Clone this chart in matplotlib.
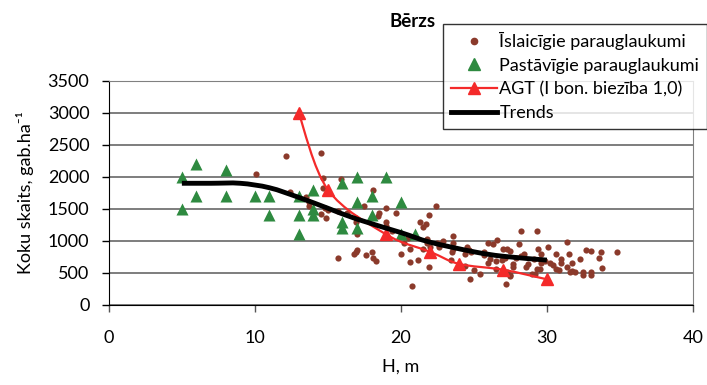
import matplotlib
matplotlib.use("Agg")
import matplotlib.pyplot as plt
from matplotlib.path import Path
from matplotlib.patches import PathPatch
from matplotlib.lines import Line2D

plt.rcParams['font.family'] = ['Lato', 'DejaVu Sans']

# Īslaicīgie parauglaukumi (temporary plots)
isl_h = [10.1, 12.1, 12.4, 13.5, 13.7, 13.7, 14.5, 14.5, 14.7, 14.7, 14.8, 14.9, 15.0, 15.7, 15.7,
         15.9, 16.3, 16.8, 16.9, 16.9, 16.9, 17.0, 17.0, 17.5, 17.6, 18.0, 18.1, 18.1, 18.3, 18.4,
         18.5, 19.0, 19.0, 19.0, 19.4, 19.7, 20.0, 20.2, 20.5, 20.6, 20.6, 20.75, 21.2, 21.3, 21.5,
         21.5, 21.7, 21.8, 21.8, 21.9, 21.9, 22.0, 22.4, 22.5, 22.6, 22.7, 22.9, 23.4, 23.5, 23.6,
         23.6, 23.6, 24.4, 24.4, 24.5, 24.7, 24.75, 24.8, 25.0, 25.4, 25.7, 25.7, 26.0, 26.0, 26.1,
         26.3, 26.5, 26.5, 26.6, 26.9, 27.0, 27.1, 27.2, 27.3, 27.3, 27.5, 27.5, 27.5, 27.7, 27.7,
         27.9, 28.1, 28.2, 28.2, 28.4, 28.6, 28.7, 29.0, 29.1, 29.2, 29.3, 29.3, 29.4, 29.5, 29.6,
         29.6, 29.6, 29.9, 30.1, 30.2, 30.45, 30.6, 30.6, 30.8, 31.0, 31.0, 31.4, 31.4, 31.5, 31.6,
         31.7, 31.7, 31.9, 32.3, 32.5, 32.5, 32.7, 33.0, 33.0, 33.0, 33.6, 33.7, 33.8, 34.8]
isl_n = [2050, 2320, 1770, 1690, 1600, 1550, 2370, 1420, 1990, 1820, 1520, 1350, 1490, 1470, 730,
         1960, 1440, 790, 1360, 1300, 820, 1110, 860, 1550, 780, 820, 1800, 730, 690, 1390,
         1440, 1520, 1290, 1240, 1160, 1440, 790, 975, 1050, 670, 880, 290, 700, 1290, 1210,
         870, 1260, 1030, 960, 1410, 600, 910, 1540, 975, 900, 950, 1000, 700, 820, 1080,
         960, 870, 610, 800, 900, 860, 400, 830, 545, 490, 820, 780, 960, 660, 720,
         950, 690, 560, 1020, 700, 870, 740, 330, 880, 510, 850, 470, 450, 640, 590,
         740, 950, 1160, 770, 800, 590, 640, 480, 720, 480, 1160, 560, 870, 560, 790,
         700, 650, 690, 900, 660, 630, 800, 560, 540, 720, 650, 990, 590, 790, 520,
         650, 530, 520, 720, 520, 460, 860, 835, 520, 470, 730, 820, 580, 820]

# Pastāvīgie parauglaukumi (permanent plots)
pst_h = [5, 5, 6, 6, 8, 8, 10, 11, 11, 13, 13, 13, 14, 14, 14, 16, 16, 16, 17, 17, 17, 18, 18, 19, 20, 20, 21]
pst_n = [2000, 1500, 2200, 1700, 2100, 1700, 1700, 1700, 1400, 1700, 1400, 1100, 1800, 1500, 1400,
         1900, 1300, 1200, 2000, 1600, 1200, 1700, 1400, 2000, 1600, 1100, 1100]

# AGT (I bon. biezība 1,0)
agt_h = [13, 15, 19, 22, 24, 27, 30]
agt_n = [3000, 1800, 1100, 830, 640, 550, 400]

# Trends
trend_h = [5, 7, 9, 11, 13, 15, 17, 20, 22, 25, 27, 30]
trend_n = [1900, 1900, 1900, 1830, 1680, 1510, 1340, 1130, 980, 830, 760, 700]

labels = ['Īslaicīgie parauglaukumi', 'Pastāvīgie parauglaukumi',
          'AGT (I bon. biezība 1,0)', 'Trends']

c_dot = '#8b3a2b'
c_tri = '#2e8a40'
c_red = '#f42a2a'


def smooth_path(xs, ys):
    # Excel-like smoothed line: Catmull-Rom segments as cubic Bezier curves
    pts = list(zip(xs, ys))
    verts = [pts[0]]
    codes = [Path.MOVETO]
    for i in range(len(pts) - 1):
        p0 = pts[i - 1] if i > 0 else pts[i]
        p1 = pts[i]
        p2 = pts[i + 1]
        p3 = pts[i + 2] if i + 2 < len(pts) else pts[i + 1]
        c1 = (p1[0] + (p2[0] - p0[0]) / 6, p1[1] + (p2[1] - p0[1]) / 6)
        c2 = (p2[0] - (p3[0] - p1[0]) / 6, p2[1] - (p3[1] - p1[1]) / 6)
        verts += [c1, c2, p2]
        codes += [Path.CURVE4] * 3
    return Path(verts, codes)


fig = plt.figure(figsize=(7.07, 3.85), dpi=100)
ax = fig.add_axes([0.154, 0.208, 0.826, 0.582])

ax.scatter(isl_h, isl_n, s=20, color=c_dot, zorder=3, linewidths=0)
ax.scatter(pst_h, pst_n, s=75, marker='^', color=c_tri, zorder=3, linewidths=0)

ax.add_patch(PathPatch(smooth_path(agt_h, agt_n), fill=False, edgecolor=c_red, lw=1.6, zorder=4))
ax.plot(agt_h, agt_n, ls='none', marker='^', ms=8, color=c_red, mec=c_red, zorder=4)
ax.add_patch(PathPatch(smooth_path(trend_h, trend_n), fill=False, edgecolor='black', lw=3.5,
                       zorder=5, capstyle='butt'))

ax.set_xlim(0, 40)
ax.set_ylim(0, 3500)
ax.set_xticks(range(0, 41, 10))
ax.set_yticks(range(0, 3501, 500))
ax.yaxis.grid(True, color='#5a5a5a', lw=1.1)
ax.set_axisbelow(True)
ax.tick_params(direction='out', length=5, width=1, labelsize=13, pad=9)
ax.tick_params(axis='x', pad=13, color='#555555')
for s in ['top', 'right']:
    ax.spines[s].set_color('#808080')
ax.spines['left'].set_color('black')
ax.spines['bottom'].set_color('black')

ax.set_xlabel('H, m', fontsize=13, labelpad=9)
ax.set_ylabel('Koku skaits, gab.ha⁻¹', fontsize=13, labelpad=10)
fig.text(0.584, 0.945, 'Bērzs', fontsize=13.5, fontweight='bold', ha='center', va='center')

handles = [
    Line2D([], [], ls='none', marker='o', ms=4.5, color=c_dot, mec=c_dot),
    Line2D([], [], ls='none', marker='^', ms=8, color=c_tri, mec=c_tri),
    Line2D([], [], color=c_red, lw=1.6, marker='^', ms=8),
    Line2D([], [], color='black', lw=3.5),
]
leg = fig.legend(handles, labels, loc='upper left', bbox_to_anchor=(0.627, 0.938),
                 fontsize=13, frameon=True, fancybox=False, handlelength=2.5,
                 handletextpad=0.15, labelspacing=0.42, borderpad=0.45, borderaxespad=0)
leg.get_frame().set_edgecolor('black')
leg.get_frame().set_linewidth(1)

fig.savefig('out.png', dpi=100)
